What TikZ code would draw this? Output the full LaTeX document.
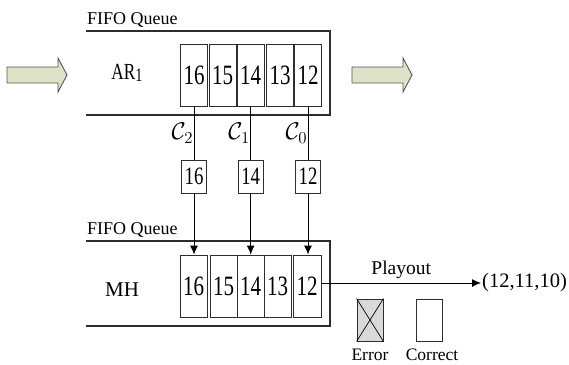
\documentclass[tikz,border=0pt]{standalone}
\usepackage{fontspec}
\setmainfont{Liberation Serif}
\newfontfamily\narrowserif[FakeStretch=0.75]{Liberation Serif}
\usetikzlibrary{arrows.meta,positioning}
\definecolor{arrowfill}{RGB}{221,226,200}
\definecolor{arrowedge}{RGB}{85,85,85}
\definecolor{queueline}{RGB}{45,45,45}
\definecolor{errorfill}{RGB}{217,217,217}

\begin{document}
\begin{tikzpicture}[x=1pt, y=-1pt,
  cell/.style={draw=queueline, line width=0.9pt, minimum width=27.5pt,
    minimum height=62pt, inner sep=0pt,
    font=\narrowserif\fontsize{28}{28}\selectfont},
  tagbox/.style={draw=queueline, line width=0.9pt, minimum width=25pt,
    minimum height=33pt, inner sep=0pt,
    font=\narrowserif\fontsize{25}{25}\selectfont},
  legendbox/.style={draw=queueline, line width=0.9pt, minimum width=26pt,
    minimum height=42pt, inner sep=0pt},
  frame/.style={draw=queueline, line width=1.3pt},
  fatarrow/.style={draw=arrowedge, fill=arrowfill, line width=0.9pt},
  flow/.style={-{Latex[length=9pt,width=8pt]}, line width=0.9pt}]
  \useasboundingbox (0,0) rectangle (569,364);

  % Queue frames (open on the left)
  \foreach \y/\h/\q in {31/84/ar, 241/85/mh}{
    \draw[frame] (86,\y) -- (330,\y) -- (330,\y+\h) -- (86,\y+\h);
    \node[font=\fontsize{18}{18}\selectfont, anchor=base west, inner sep=0pt]
      (fifo-\q) at (87,\y-6.5) {FIFO Queue};
  }
  \node[font=\narrowserif\fontsize{23}{23}\selectfont, inner sep=0pt] (ar) at (127,73)
    {AR\raisebox{-0.06em}{\fontsize{19}{19}\selectfont 1}};
  \node[font=\fontsize{21}{21}\selectfont] (mh) at (122,290) {MH};

  % Incoming / outgoing arrows
  \foreach \x in {7, 352}
    \draw[fatarrow] (\x,67) -- (\x+51,67) -- (\x+51,58) -- (\x+60,75)
      -- (\x+51,92) -- (\x+51,83) -- (\x,83) -- cycle;

  % Packets in the queues
  \foreach \x/\n in {194/16, 222.7/15, 250.7/14, 280/13, 308/12}
    \node[cell] (t\n) at (\x,75) {\n};
  \foreach \x/\n in {193.7/16, 223.7/15, 250.7/14, 277.7/13, 307.2/12}
    \node[cell] (b\n) at (\x,286) {\n};

  % Copies passed down
  \foreach \x/\n/\c in {194/16/2, 250.7/14/1, 308/12/0}{
    \node[tagbox] (s\n) at (\x,176.5) {\n};
    \draw[line width=0.9pt] (t\n.south) -- node[midway, left, inner sep=0.3pt,
      font=\fontsize{17}{17}\selectfont] (c\c)
      {\scalebox{1.4}{$\mathcal{C}_\c$}} (s\n.north);
    \draw[flow] (s\n.south) -- (s\n.south |- b\n.north);
  }

  % Playout
  \node[font=\fontsize{20.5}{20.5}\selectfont, anchor=west, inner sep=1pt]
    (out) at (481,283) {(12,11,10)};
  \draw[flow] (b12.east |- out.west) -- node[midway, above, inner sep=4pt,
    font=\fontsize{19.5}{19.5}\selectfont] (play) {Playout} (out.west);

  % Legend
  \node[legendbox, fill=errorfill] (err) at (370,320) {};
  \draw[line width=0.7pt] (err.north west) -- (err.south east)
    (err.north east) -- (err.south west);
  \node[legendbox] (ok) at (429.5,320) {};
  \node[font=\fontsize{17.5}{17.5}\selectfont, anchor=base, inner sep=0pt]
    (errlab) at (370,360) {Error};
  \node[font=\fontsize{17.5}{17.5}\selectfont, anchor=base, inner sep=0pt]
    (oklab) at (432,360) {Correct};
\end{tikzpicture}
\end{document}
